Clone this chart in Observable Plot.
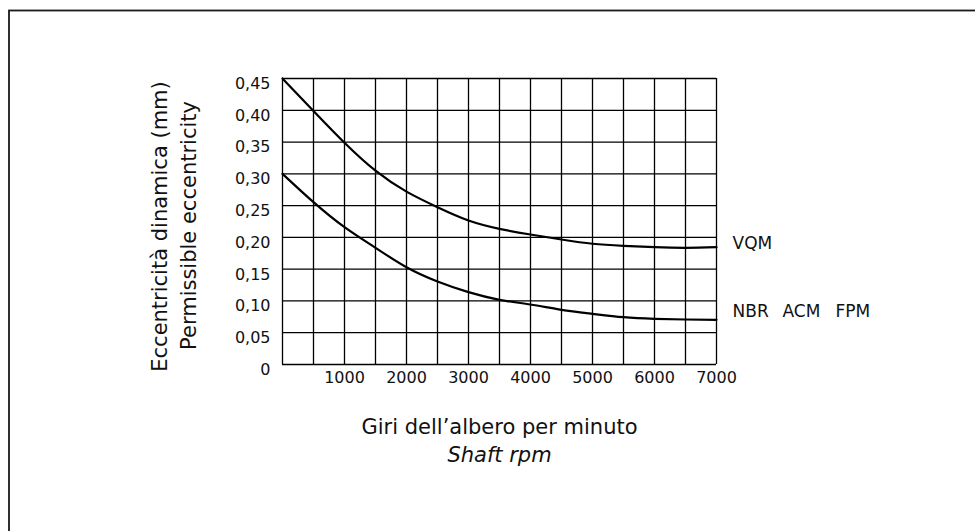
<!DOCTYPE html>
<html><head><meta charset="utf-8">
<script src="https://cdn.jsdelivr.net/npm/d3@7"></script>
<script src="https://cdn.jsdelivr.net/npm/@observablehq/plot@0.6"></script>
<style>html,body{margin:0;padding:0;background:#fff;overflow:hidden}</style>
</head><body><div id="chart"></div>
<script>
// ---- data ----
const rpm = [0, 500, 1000, 1500, 2000, 2500, 3000, 3500, 4000, 4500, 5000, 5500, 6000, 6500, 7000];
const vqm = [0.45, 0.399, 0.349, 0.305, 0.272, 0.2475, 0.2266, 0.2135, 0.2045, 0.1967, 0.190, 0.1867, 0.1846, 0.1836, 0.1846];
const nbr = [0.30, 0.2554, 0.216, 0.1836, 0.153, 0.1306, 0.1138, 0.1018, 0.0944, 0.086, 0.0797, 0.0744, 0.0719, 0.0708, 0.0703];
const seriesNames = ["VQM", "NBR ACM FPM"];
const nbrLabels = ["NBR", "ACM", "FPM"];
const xTickValues = [1000, 2000, 3000, 4000, 5000, 6000, 7000];
const xTickLabels = ["1000", "2000", "3000", "4000", "5000", "6000", "7000"];
const yTickValues = [0, 0.05, 0.10, 0.15, 0.20, 0.25, 0.30, 0.35, 0.40, 0.45];
const yTickLabels = ["0", "0,05", "0,10", "0,15", "0,20", "0,25", "0,30", "0,35", "0,40", "0,45"];
const gridX = [0, 500, 1000, 1500, 2000, 2500, 3000, 3500, 4000, 4500, 5000, 5500, 6000, 6500, 7000];
const yTitleLines = ["Eccentricità dinamica (mm)", "Permissible eccentricity"];
const xTitleLines = ["Giri dell\u2019albero per minuto", "Shaft rpm"];

// ---- build table ----
const rows = [];
rpm.forEach((r, i) => {
  rows.push({series: seriesNames[0], rpm: r, e: vqm[i]});
  rows.push({series: seriesNames[1], rpm: r, e: nbr[i]});
});
const lastX = rpm[rpm.length - 1];
const font = "DejaVu Sans";

const chart = Plot.plot({
  width: 975,
  height: 531,
  marginLeft: 282,
  marginRight: 259,
  marginTop: 78,
  marginBottom: 167,
  style: {fontFamily: font, background: "#fff", overflow: "hidden", color: "#000"},
  x: {domain: [0, 7000], axis: null},
  y: {domain: [0, 0.45], axis: null},
  marks: [
    // outer page frame (only top and left edges visible)
    Plot.frame({insetLeft: -273.5, insetTop: -68, insetRight: -400, insetBottom: -400, stroke: "#1a1a1a", strokeWidth: 1.8}),
    // grid
    Plot.ruleX(gridX, {x: d => d, stroke: "#000", strokeWidth: 1.3}),
    Plot.ruleY(yTickValues, {y: d => d, stroke: "#000", strokeWidth: 1.3}),
    // curves
    Plot.line(rows, {x: "rpm", y: "e", z: "series", curve: "natural", stroke: "#000", strokeWidth: 2.2}),
    // tick labels
    Plot.text(yTickValues, {y: d => d, frameAnchor: "left", text: (d, i) => yTickLabels[i], textAnchor: "end", dx: -12, dy: 5.3, fontSize: 16, fill: "#111"}),
    Plot.text(xTickValues, {x: d => d, frameAnchor: "bottom", text: (d, i) => xTickLabels[i], dy: 18.2, fontSize: 16, fill: "#111"}),
    // series labels
    Plot.text([seriesNames[0]], {x: () => lastX, y: () => vqm[vqm.length - 1], text: d => d, textAnchor: "start", dx: 16, dy: -3.8, fontSize: 17, fill: "#111"}),
    Plot.text([nbrLabels[0]], {x: () => lastX, y: () => nbr[nbr.length - 1], text: d => d, textAnchor: "start", dx: 16, dy: -8, fontSize: 17, fill: "#111"}),
    Plot.text([nbrLabels[1]], {x: () => lastX, y: () => nbr[nbr.length - 1], text: d => d, textAnchor: "start", dx: 66, dy: -8, fontSize: 17, fill: "#111"}),
    Plot.text([nbrLabels[2]], {x: () => lastX, y: () => nbr[nbr.length - 1], text: d => d, textAnchor: "start", dx: 119, dy: -8, fontSize: 17, fill: "#111"}),
    // y axis title (two lines)
    Plot.text([yTitleLines[0]], {frameAnchor: "left", textAnchor: "middle", text: d => d, rotate: -90, dx: -122.7, dy: 5, fontSize: 21, fill: "#111"}),
    Plot.text([yTitleLines[1]], {frameAnchor: "left", textAnchor: "middle", text: d => d, rotate: -90, dx: -93.7, dy: 4, fontSize: 21, fill: "#111"}),
    // x axis title (two lines)
    Plot.text([xTitleLines[0]], {frameAnchor: "bottom", text: d => d, dy: 69.3, fontSize: 21, fill: "#111"}),
    Plot.text([xTitleLines[1]], {frameAnchor: "bottom", text: d => d, dy: 97.6, fontSize: 21, fontStyle: "italic", fill: "#111"})
  ]
});
document.getElementById("chart").appendChild(chart);
</script>
</body></html>
